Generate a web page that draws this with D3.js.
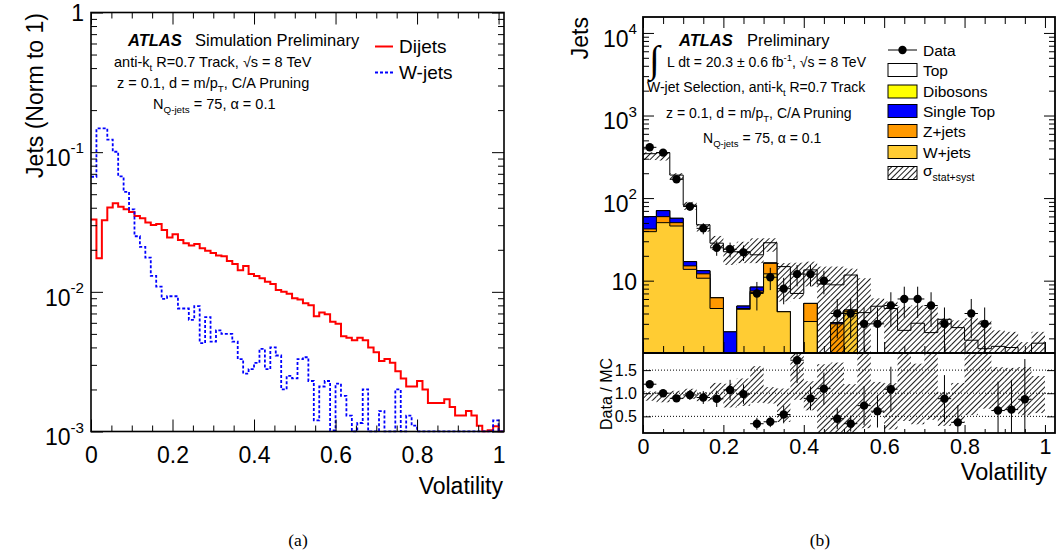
<!DOCTYPE html>
<html>
<head>
<meta charset="utf-8">
<title>Volatility</title>
<script src="https://cdn.jsdelivr.net/npm/d3@7"></script>
<style>
  body { margin: 0; background: #fff; }
  text { font-family: 'Liberation Sans', Arial, Helvetica, sans-serif; fill: #000; }
</style>
</head>
<body>
<svg id="chart" width="1060" height="558"></svg>
<script>
// ---------- (a) normalised shapes, 75 bins of 1/75 on [0,1]
const dijets = [0.0329, 0.0174, 0.0325, 0.0402, 0.0430, 0.0407, 0.0390, 0.0373, 0.0349, 0.0336,
  0.0313, 0.0301, 0.0306, 0.0277, 0.0245, 0.0258, 0.0235, 0.0223, 0.0215, 0.0220,
  0.0205, 0.0197, 0.0190, 0.0182, 0.0180, 0.0166, 0.0158, 0.0143, 0.0153, 0.0134,
  0.0130, 0.0125, 0.0118, 0.0114, 0.0103, 0.0100, 0.0097, 0.0090, 0.0088, 0.0083,
  0.0080, 0.0067, 0.0071, 0.0069, 0.0061, 0.0059, 0.0048, 0.0047, 0.0045, 0.0047,
  0.0045, 0.0040, 0.0037, 0.0032, 0.0033, 0.0031, 0.0027, 0.0024, 0.0021, 0.0021,
  0.0023, 0.0020, 0.0016, 0.0016, 0.0016, 0.0017, 0.0015, 0.0013, 0.0013, 0.0014,
  0.0013, 0.0011, 0.00098, 0.00102, 0.00109]
const wjetsNorm = [0.0667, 0.148, 0.148, 0.123, 0.1007, 0.067, 0.052, 0.039, 0.025, 0.021,
  0.0176, 0.0130, 0.0109, 0.0089, 0.0093, 0.0093, 0.0076, 0.0076, 0.0063, 0.0079,
  0.0043, 0.0066, 0.0044, 0.0053, 0.0050, 0.0050, 0.0044, 0.0033, 0.0026, 0.0028,
  0.0031, 0.0039, 0.0028, 0.0040, 0.0035, 0.0020, 0.0025, 0.0024, 0.0033, 0.0034,
  0.0023, 0.0012, 0.0021, 0.0023, 0.00102, 0.0022, 0.0018, 0.0013, 0.00099, 0.00115,
  0.0020, 0, 0, 0.0014, 0, 0, 0.0020, 0, 0.0013, 0.0011,
  0, 0, 0, 0, 0, 0, 0, 0, 0, 0,
  0, 0, 0, 0, 0.0012]

// ---------- (b) W-jet selection, 30 bins of 1/30 on [0,1]
const wjets = [39.2, 50.4, 45.9, 13.7, 10.7, 4.6, 0, 4.5, 7.2, 12.1, 4.2, 0, 3.2, 0, 0, 4.2,
  0, 0, 0, 0, 0, 0, 0, 0, 0, 0, 0, 0, 0, 0]
const zjets = [3.1, 9.2, 4.5, 1.4, 1.4, 1.6, 0, 0.1, 0.3, 4.1, 0, 0, 2.1, 0, 3.0, 0.2,
  0, 0, 0, 0, 0, 0, 0, 0, 0, 0, 0, 0, 0, 0]
const singleTop = [17.3, 10.9, 6.5, 1.9, 1.1, 0.05, 2.4, 0.33, 0.86, 0.2, 0, 0, 0, 0, 0.1, 0,
  0, 0, 0, 0, 0, 0, 0, 0, 0, 0, 0, 0, 0, 0]
const dibosons = [0.2, 0.2, 0.1, 0.05, 0, 0, 0, 0, 0, 0, 0, 0, 0, 0, 0, 0,
  0, 0, 0, 0, 0, 0, 0, 0, 0, 0, 0, 0, 0, 0]
const ttbar = [285, 284, 133, 65, 34.2, 22.2, 20.0, 17.5, 12.2, 12.4, 10.6, 7.0, 8.2, 9.1, 5.8, 7.3,
  4.1, 4.9, 4.6, 2.5, 3.05, 2.35, 3.4, 2.7, 1.9, 1.5, 1.6, 1.55, 1.15, 1.75]
const dataCounts = [412, 355, 169, 79, 43, 25, 24, 22, 7, 11, 8, 12, 12, 10, 4, 4,
  3, 3, 5, 6, 6, 5, 3, 1, 4, 3, 1, 1, 1, 0]
const bandLo = [289, 285, 166, 72, 39.2, 23.5, 15.5, 16.3, 16.3, 22.4, 5.6, 6.0, 8.5, 1, 1, 1,
  1, 2.8, 1, 1, 1, 1, 1, 1, 1, 1, 1, 1, 0.6, 1]
const bandHi = [358, 360, 200, 90, 48.5, 34.8, 27, 29.6, 32.6, 32.6, 16.3, 16.5, 17, 14.8, 14.8, 14.0,
  10.7, 6.1, 5.6, 4.85, 5.0, 5.0, 3.5, 3.3, 3.5, 3.3, 2.5, 2.4, 1.8, 2.4]

const legendNames = ["Data", "Top", "Dibosons", "Single Top", "Z+jets", "W+jets"]
const stackKeys = ["wjets", "zjets", "singleTop", "dibosons", "top"]
const stackColors = { wjets: "#ffcc33", zjets: "#ff9900", singleTop: "#0000ff", dibosons: "#ffff00", top: "#ffffff" }

const xMajor = [0, 0.2, 0.4, 0.6, 0.8, 1]
const xMinor = d3.range(0, 1.001, 0.05)
const yMajorL = [1e-3, 1e-2, 1e-1, 1]
const yMajorR = [10, 100, 1000, 10000]
const ratioTicks = [0.5, 1.0, 1.5]

const svg = d3.select("#chart")
svg.append("rect").attr("width", 1060).attr("height", 558).attr("fill", "#fff")

const defs = svg.append("defs")
defs.append("pattern").attr("id", "hatch").attr("patternUnits", "userSpaceOnUse")
    .attr("width", 4).attr("height", 4).attr("patternTransform", "rotate(45)")
    .append("line").attr("x1", 0.5).attr("y1", 0).attr("x2", 0.5).attr("y2", 4)
    .attr("stroke", "#000").attr("stroke-width", 0.9)

function clip(id, x, y, w, h) {
    defs.append("clipPath").attr("id", id).append("rect")
        .attr("x", x).attr("y", y).attr("width", w).attr("height", h)
}

function minorLog(lo, hi) {
    let out = []
    for (let d = Math.floor(Math.log10(lo)); d <= Math.ceil(Math.log10(hi)); d++)
        for (let k = 2; k <= 9; k++) {
            let v = k * Math.pow(10, d)
            if (v > lo && v < hi) out.push(v)
        }
    return out
}

function ticksX(scale, vals, yBot, yTop, len) {
    svg.append("g").attr("transform", `translate(0,${yBot})`)
        .call(d3.axisBottom(scale).tickValues(vals).tickSize(-len).tickFormat(""))
        .call(a => a.select(".domain").remove())
    if (yTop !== null)
        svg.append("g").attr("transform", `translate(0,${yTop})`)
            .call(d3.axisTop(scale).tickValues(vals).tickSize(-len).tickFormat(""))
            .call(a => a.select(".domain").remove())
}

function ticksY(scale, vals, xLeft, xRight, len) {
    svg.append("g").attr("transform", `translate(${xLeft},0)`)
        .call(d3.axisLeft(scale).tickValues(vals).tickSize(-len).tickFormat(""))
        .call(a => a.select(".domain").remove())
    svg.append("g").attr("transform", `translate(${xRight},0)`)
        .call(d3.axisRight(scale).tickValues(vals).tickSize(-len).tickFormat(""))
        .call(a => a.select(".domain").remove())
}

function xLabels(scale, y, size) {
    svg.append("g").attr("transform", `translate(0,${y})`)
        .call(d3.axisBottom(scale).tickValues(xMajor).tickSize(0).tickPadding(0)
            .tickFormat(d => d === 0 ? "0" : d === 1 ? "1" : d3.format(".1f")(d)))
        .call(a => a.select(".domain").remove())
        .selectAll("text").attr("dy", null).attr("y", 0)
        .style("font-size", size + "px")
        .style("font-family", "'Liberation Sans', Arial, sans-serif")
}

// rich text with sub/superscripts
function rich(x, y, size, parts, anchor) {
    const t = svg.append("text").attr("x", x).attr("y", y).style("font-size", size + "px")
    if (anchor) t.attr("text-anchor", anchor)
    let shift = 0
    parts.forEach(p => {
        const part = typeof p === "string" ? { t: p } : p
        const target = part.sub ? size * 0.32 : part.sup ? -size * 0.45 : 0
        const ts = t.append("tspan").attr("dy", target - shift).text(part.t)
        if (part.sub || part.sup) ts.style("font-size", (size * 0.68) + "px")
        if (part.bi) ts.style("font-weight", "bold").style("font-style", "italic")
        shift = target
    })
    return t
}

function logLabel(xRight, y, v, size, plainTen) {
    const e = Math.round(Math.log10(v))
    if (e === 0) return rich(xRight, y + size * 0.37, size, ["1"], "end")
    if (e === 1 && plainTen) return rich(xRight, y + size * 0.4, size, ["10"], "end")
    const t = svg.append("text").attr("x", xRight).attr("y", y + size * 0.6)
        .attr("text-anchor", "end").style("font-size", size + "px").text("10")
    t.append("tspan").attr("dy", -size * 0.55).style("font-size", (size * 0.66) + "px").text(String(e))
}

// =================== panel (a) ===================
const L = { x0: 91, x1: 504, y0: 12.5, y1: 431.5 }
const xL = d3.scaleLinear().domain([0, 76 / 75]).range([L.x0, L.x1])
const yL = d3.scaleLog().domain([1e-3, 1]).range([L.y1, L.y0]).clamp(true)
clip("clipL", L.x0, L.y0, L.x1 - L.x0, L.y1 - L.y0 + 1)

function stepPoints(vals, nb) {
    let pts = vals.map((v, i) => [i / nb, v])
    pts.push([1, 0], [76 / 75, 0])
    return pts
}
const lineL = d3.line().curve(d3.curveStepAfter)
    .x(d => xL(d[0])).y(d => yL(Math.max(d[1], 5e-4)))

const gL = svg.append("g").attr("clip-path", "url(#clipL)")
gL.append("path").attr("d", lineL(stepPoints(dijets, 75)))
    .attr("fill", "none").attr("stroke", "#ff0000").attr("stroke-width", 2)
gL.append("path").attr("d", lineL(stepPoints(wjetsNorm, 75)))
    .attr("fill", "none").attr("stroke", "#0000ff").attr("stroke-width", 1.8)
    .attr("stroke-dasharray", "3,2")

ticksX(xL, xMajor, L.y1, L.y0, 12)
ticksX(xL, xMinor.filter(v => !xMajor.some(m => Math.abs(m - v) < 1e-6)), L.y1, L.y0, 6)
ticksY(yL, yMajorL, L.x0, L.x1, 12)
ticksY(yL, minorLog(1e-3, 1), L.x0, L.x1, 6)
svg.append("rect").attr("x", L.x0).attr("y", L.y0).attr("width", L.x1 - L.x0).attr("height", L.y1 - L.y0)
    .attr("fill", "none").attr("stroke", "#000").attr("stroke-width", 1.6)

xLabels(xL, 463, 23)
yMajorL.forEach(v => logLabel(84, yL(v), v, 23, false))
rich(503, 494, 23, ["Volatility"], "end")
svg.append("text").attr("transform", "translate(43,13) rotate(-90)").attr("text-anchor", "end")
    .style("font-size", "23px").text("Jets (Norm to 1)")

rich(128, 46, 16.5, [{ t: "ATLAS", bi: true }])
rich(195, 46, 16.5, ["Simulation Preliminary"])
rich(114, 66.5, 14.5, ["anti-k", { t: "t", sub: true }, " R=0.7 Track, \u221as = 8 TeV"])
rich(117, 87.5, 14.5, ["z = 0.1, d = m/p", { t: "T", sub: true }, ", C/A Pruning"])
rich(153, 108.5, 14.5, ["N", { t: "Q-jets", sub: true }, " = 75, \u03b1 = 0.1"])

svg.append("line").attr("x1", 375).attr("x2", 393).attr("y1", 46.5).attr("y2", 46.5)
    .attr("stroke", "#ff0000").attr("stroke-width", 2)
rich(399, 53, 19, ["Dijets"])
svg.append("line").attr("x1", 375).attr("x2", 393).attr("y1", 72.5).attr("y2", 72.5)
    .attr("stroke", "#0000ff").attr("stroke-width", 1.8).attr("stroke-dasharray", "3,2")
rich(399, 79, 19, ["W-jets"])

// =================== panel (b) ===================
const R = { x0: 643, x1: 1055, y0: 17, y1: 353, r1: 433 }
const xR = d3.scaleLinear().domain([0, 1.025]).range([R.x0, R.x1])
const yR = d3.scaleLog().domain([1.33, 15600]).range([R.y1, R.y0]).clamp(true)
const yRat = d3.scaleLinear().domain([0.14, 1.87]).range([R.r1, R.y1]).clamp(true)
clip("clipR", R.x0, R.y0, R.x1 - R.x0, R.y1 - R.y0)
clip("clipRat", R.x0, R.y1, R.x1 - R.x0, R.r1 - R.y1)

const rows = dataCounts.map((d, i) => ({
    wjets: wjets[i], zjets: zjets[i], singleTop: singleTop[i], dibosons: dibosons[i], top: ttbar[i]
}))
const series = d3.stack().keys(stackKeys)(rows)
const mcTotal = series[series.length - 1].map(d => d[1])

const areaR = d3.area().curve(d3.curveStepAfter)
    .x(d => xR(d[0])).y0(R.y1).y1(d => yR(Math.max(d[1], 0.5)))

const gU = svg.append("g").attr("clip-path", "url(#clipR)")
series.slice().reverse().forEach(s => {
    let pts = s.map((d, i) => [i / 30, d[1]])
    pts.push([1, s[29][1]])
    gU.append("path").attr("d", areaR(pts))
        .attr("fill", stackColors[s.key]).attr("stroke", "#000").attr("stroke-width", 1)
})
gU.selectAll("rect.band").data(mcTotal).join("rect").attr("class", "band")
    .attr("x", (d, i) => xR(i / 30)).attr("width", xR(1 / 30) - xR(0))
    .attr("y", (d, i) => yR(bandHi[i]))
    .attr("height", (d, i) => yR(Math.max(bandLo[i], 0.5)) - yR(bandHi[i]))
    .attr("fill", "url(#hatch)")

// data with poisson-like errors
const pts = dataCounts.map((n, i) => ({ i, n, c: (i + 0.5) / 30 })).filter(d => d.n > 0)
const gD = svg.append("g").attr("clip-path", "url(#clipR)")
pts.filter(d => d.n >= 1.33).forEach(d => {
    const e = Math.sqrt(d.n)
    gD.append("line").attr("x1", xR(d.c)).attr("x2", xR(d.c))
        .attr("y1", yR(Math.max(d.n - e, 0.5))).attr("y2", yR(d.n + e)).attr("stroke", "#000")
    gD.append("line").attr("x1", xR(d.i / 30)).attr("x2", xR((d.i + 1) / 30))
        .attr("y1", yR(d.n)).attr("y2", yR(d.n)).attr("stroke", "#000")
    gD.append("circle").attr("cx", xR(d.c)).attr("cy", yR(d.n)).attr("r", 4.2).attr("fill", "#000")
})

// ratio
const gRat = svg.append("g").attr("clip-path", "url(#clipRat)")
ratioTicks.forEach(v => gRat.append("line").attr("x1", R.x0).attr("x2", R.x1)
    .attr("y1", yRat(v)).attr("y2", yRat(v)).attr("stroke", "#000").attr("stroke-dasharray", "1,2"))
gRat.selectAll("rect.rband").data(mcTotal).join("rect").attr("class", "rband")
    .attr("x", (d, i) => xR(i / 30)).attr("width", xR(1 / 30) - xR(0))
    .attr("y", (d, i) => yRat(bandHi[i] / d))
    .attr("height", (d, i) => yRat(bandLo[i] / d) - yRat(bandHi[i] / d))
    .attr("fill", "url(#hatch)")
pts.forEach(d => {
    const m = mcTotal[d.i]
    const r = d.n / m, e = Math.sqrt(d.n) / m
    if (r < 0.14 || r > 1.87) return
    gRat.append("line").attr("x1", xR(d.c)).attr("x2", xR(d.c))
        .attr("y1", yRat(r - e)).attr("y2", yRat(r + e)).attr("stroke", "#000")
    gRat.append("line").attr("x1", xR(d.i / 30)).attr("x2", xR((d.i + 1) / 30))
        .attr("y1", yRat(r)).attr("y2", yRat(r)).attr("stroke", "#000")
    svg.append("circle").attr("cx", xR(d.c)).attr("cy", yRat(r)).attr("r", 4.2).attr("fill", "#000")
})

// axes and frames
const xMinorOnly = xMinor.filter(v => !xMajor.some(m => Math.abs(m - v) < 1e-6))
ticksX(xR, xMajor, R.y1, R.y0, 11)
ticksX(xR, xMinorOnly, R.y1, R.y0, 7)
ticksX(xR, xMajor, R.r1, null, 8)
ticksX(xR, xMinorOnly, R.r1, null, 4)
ticksY(yR, yMajorR, R.x0, R.x1, 11)
ticksY(yR, minorLog(1.33, 15600), R.x0, R.x1, 6)
ticksY(yRat, ratioTicks, R.x0, R.x1, 8)
svg.append("rect").attr("x", R.x0).attr("y", R.y0).attr("width", R.x1 - R.x0).attr("height", R.r1 - R.y0)
    .attr("fill", "none").attr("stroke", "#000").attr("stroke-width", 1.8)
svg.append("line").attr("x1", R.x0).attr("x2", R.x1).attr("y1", R.y1).attr("y2", R.y1)
    .attr("stroke", "#000").attr("stroke-width", 2)

xLabels(xR, 454, 21.5)
yMajorR.forEach(v => logLabel(637, yR(v), v, 23, true))
ratioTicks.forEach(v => rich(637, yRat(v) + 6, 16, [d3.format(".1f")(v)], "end"))
rich(1047, 480, 23.5, ["Volatility"], "end")
svg.append("text").attr("transform", "translate(588,17) rotate(-90)").attr("text-anchor", "end")
    .style("font-size", "23px").text("Jets")
svg.append("text").attr("transform", "translate(612,394) rotate(-90)").attr("text-anchor", "middle")
    .style("font-size", "16px").text("Data / MC")

svg.append("text").attr("x", 649).attr("y", 72).style("font-size", "38px")
    .style("font-family", "'Liberation Serif', serif").text("\u222b")
rich(679, 46, 16.5, [{ t: "ATLAS", bi: true }])
rich(747, 46, 16.5, ["Preliminary"])
rich(667, 67, 14, ["L dt = 20.3 \u00b1 0.6 fb", { t: "-1", sup: true }, ", \u221as = 8 TeV"])
rich(647, 92, 14, ["W-jet Selection, anti-k", { t: "t", sub: true }, " R=0.7 Track"])
rich(666, 118, 14, ["z = 0.1, d = m/p", { t: "T", sub: true }, ", C/A Pruning"])
rich(703, 143, 14, ["N", { t: "Q-jets", sub: true }, " = 75, \u03b1 = 0.1"])

// legend (b)
const legY = [50, 70, 91.5, 111, 131, 152, 173]
svg.append("line").attr("x1", 888).attr("x2", 917).attr("y1", legY[0]).attr("y2", legY[0]).attr("stroke", "#000")
svg.append("circle").attr("cx", 902.5).attr("cy", legY[0]).attr("r", 4.2).attr("fill", "#000")
const legKeys = [null, "top", "dibosons", "singleTop", "zjets", "wjets"]
legendNames.forEach((name, i) => {
    if (i > 0)
        svg.append("rect").attr("x", 888).attr("y", legY[i] - 6.5).attr("width", 29).attr("height", 13)
            .attr("fill", stackColors[legKeys[i]]).attr("stroke", "#000")
    rich(923, legY[i] + 5.5, 15.5, [name])
})
svg.append("rect").attr("x", 888).attr("y", legY[6] - 6.5).attr("width", 29).attr("height", 13)
    .attr("fill", "url(#hatch)").attr("stroke", "#000")
rich(923, legY[6] + 3, 15.5, ["\u03c3", { t: "stat+syst", sub: true }])

// captions
svg.append("text").attr("x", 298).attr("y", 546).attr("text-anchor", "middle")
    .style("font-family", "'Liberation Serif', 'Times New Roman', serif").style("font-size", "17.5px").text("(a)")
svg.append("text").attr("x", 820).attr("y", 546).attr("text-anchor", "middle")
    .style("font-family", "'Liberation Serif', 'Times New Roman', serif").style("font-size", "17.5px").text("(b)")
</script>
</body>
</html>
